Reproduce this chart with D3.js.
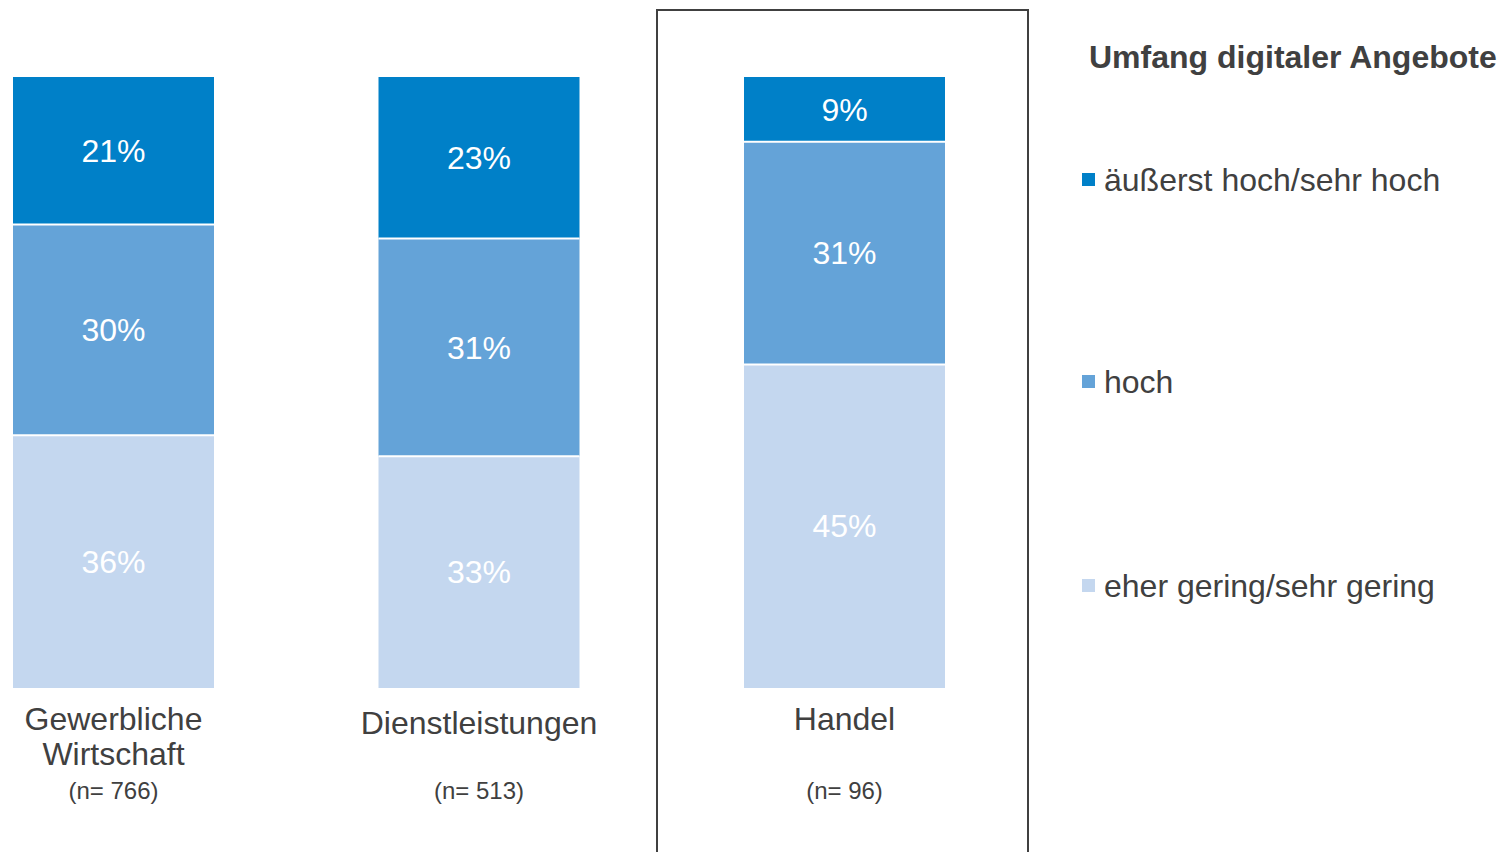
<!DOCTYPE html>
<html>
<head>
<meta charset="UTF-8">
<title>Umfang digitaler Angebote</title>
<style>
  body { margin: 0; background: #fff; }
  text { font-family: "Liberation Sans", Arial, sans-serif; }
</style>
</head>
<body>
<svg width="1501" height="852"></svg>
<script src="https://cdn.jsdelivr.net/npm/d3@7"></script>
<script>
// data
var categories = ["Gewerbliche Wirtschaft", "Dienstleistungen", "Handel"];
var labelLines = [["Gewerbliche", "Wirtschaft"], ["Dienstleistungen"], ["Handel"]];
var sampleSizes = ["(n= 766)", "(n= 513)", "(n= 96)"];
var seriesNames = ["äußerst hoch/sehr hoch", "hoch", "eher gering/sehr gering"];
var sehrHoch = [21, 23, 9];
var hoch = [30, 31, 31];
var gering = [36, 33, 45];
var colors = ["#0080c8", "#64a3d8", "#c4d7ef"];

var svg = d3.select("svg");

// rows normalised per bar (each bar fills the full height)
var rows = categories.map(function (c, i) {
  var tot = sehrHoch[i] + hoch[i] + gering[i];
  return { cat: c, gering: gering[i] / tot, hoch: hoch[i] / tot, sehrHoch: sehrHoch[i] / tot,
           raw: { gering: gering[i], hoch: hoch[i], sehrHoch: sehrHoch[i] } };
});
var keys = ["gering", "hoch", "sehrHoch"];
var colorOf = { sehrHoch: colors[0], hoch: colors[1], gering: colors[2] };

var stack = d3.stack().keys(keys)(rows);

var x = d3.scaleBand().domain(categories)
  .range([13, 13 + 365.5 * 2 + 201])
  .paddingInner(164.5 / 365.5).paddingOuter(0);
var y = d3.scaleLinear().domain([0, 1]).range([688, 77]);

// highlight box around Handel
svg.append("rect")
  .attr("x", 657).attr("y", 10)
  .attr("width", 371).attr("height", 860)
  .attr("fill", "none").attr("stroke", "#404040").attr("stroke-width", 2);

var layers = svg.append("g").selectAll("g").data(stack).join("g")
  .attr("fill", function (d) { return colorOf[d.key]; });

layers.selectAll("rect").data(function (d) { return d; }).join("rect")
  .attr("x", function (d) { return x(d.data.cat); })
  .attr("width", x.bandwidth())
  .attr("y", function (d) { return y(d[1]); })
  .attr("height", function (d) { return y(d[0]) - y(d[1]); });

// white separators between segments
svg.append("g").selectAll("line")
  .data(stack.slice(0, 2).flatMap(function (l) { return l; }))
  .join("line")
  .attr("x1", function (d) { return x(d.data.cat); })
  .attr("x2", function (d) { return x(d.data.cat) + x.bandwidth(); })
  .attr("y1", function (d) { return y(d[1]); })
  .attr("y2", function (d) { return y(d[1]); })
  .attr("stroke", "#fff").attr("stroke-width", 2);

// value labels
stack.forEach(function (layer) {
  svg.append("g").selectAll("text").data(layer).join("text")
    .attr("x", function (d) { return x(d.data.cat) + x.bandwidth() / 2; })
    .attr("y", function (d) { return (y(d[0]) + y(d[1])) / 2; })
    .attr("dy", "0.35em")
    .attr("text-anchor", "middle")
    .attr("font-size", 32)
    .attr("fill", "#fff")
    .text(function (d) { return d.data.raw[layer.key] + "%"; });
});

// category labels
categories.forEach(function (c, i) {
  var cx = x(c) + x.bandwidth() / 2;
  var lines = labelLines[i];
  var y0 = i === 1 ? 734 : 730;
  lines.forEach(function (l, j) {
    svg.append("text").attr("x", cx).attr("y", y0 + j * 35)
      .attr("text-anchor", "middle").attr("font-size", 32).attr("fill", "#404040")
      .text(l);
  });
  svg.append("text").attr("x", cx).attr("y", 799)
    .attr("text-anchor", "middle").attr("font-size", 24).attr("fill", "#404040")
    .text(sampleSizes[i]);
});

// legend
svg.append("text").attr("x", 1089).attr("y", 68)
  .attr("font-size", 32).attr("font-weight", "bold").attr("fill", "#404040")
  .text("Umfang digitaler Angebote");

var legY = [191, 393, 597];
seriesNames.forEach(function (s, i) {
  svg.append("rect").attr("x", 1082).attr("y", legY[i] - 18)
    .attr("width", 13).attr("height", 13).attr("fill", colors[i]);
  svg.append("text").attr("x", 1104).attr("y", legY[i])
    .attr("font-size", 32).attr("fill", "#404040").text(s);
});
</script>
</body>
</html>
